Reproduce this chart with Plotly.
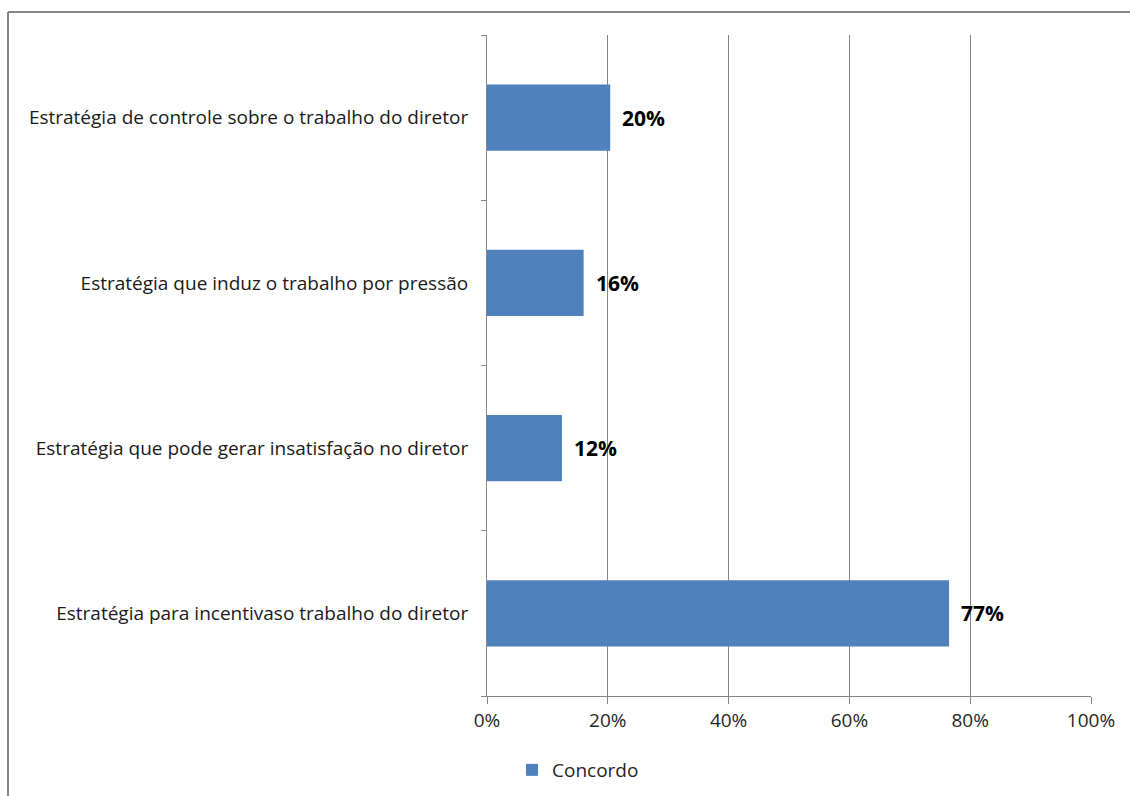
import plotly.graph_objects as go

categories = [
    "Estratégia de controle sobre o trabalho do diretor",
    "Estratégia que induz o trabalho por pressão",
    "Estratégia que pode gerar insatisfação no diretor",
    "Estratégia para incentivaso trabalho do diretor",
]
values = [0.204, 0.16, 0.124, 0.765]
value_labels = ["20%", "16%", "12%", "77%"]
series_name = "Concordo"
x_ticks = [0, 0.2, 0.4, 0.6, 0.8, 1.0]
x_tick_labels = ["0%", "20%", "40%", "60%", "80%", "100%"]

FONT = "Open Sans"
GRAY = "#868686"
L, R, T, B = 487, 39, 35, 100
W, H = 1130, 796
PW, PH = W - L - R, H - T - B

fig = go.Figure()
fig.add_trace(go.Bar(
    x=values, y=categories, orientation="h", name=series_name,
    marker=dict(color="#4F81BD", line=dict(width=0)),
    width=0.4, showlegend=True,
))

annotations = []
for cat, v, lab in zip(categories, values, value_labels):
    annotations.append(dict(
        x=v, y=cat, xref="x", yref="y", text="<b>%s</b>" % lab,
        showarrow=False, xanchor="left", yanchor="middle", xshift=10,
        font=dict(family=FONT, size=21, color="#000000"),
    ))

bx0 = (8 - L) / PW
by1 = (H - B - 12) / PH
fig.update_layout(
    width=W, height=H,
    margin=dict(l=L, r=R, t=T, b=B, autoexpand=False),
    paper_bgcolor="white", plot_bgcolor="white",
    font=dict(family=FONT, size=17, color="#262626"),
    xaxis=dict(
        range=[0, 1], tickvals=x_ticks, ticktext=x_tick_labels,
        showgrid=True, gridcolor=GRAY, gridwidth=1,
        showline=True, linecolor=GRAY, linewidth=1,
        ticks="outside", ticklen=7, tickcolor=GRAY,
        tickfont=dict(family=FONT, size=19, color="#262626"),
        zeroline=False, automargin=False,
    ),
    yaxis=dict(
        categoryorder="array", categoryarray=categories[::-1],
        tickson="boundaries", ticks="outside", ticklen=5, tickcolor=GRAY,
        showline=True, linecolor=GRAY, linewidth=1,
        showgrid=False, zeroline=False, automargin=False,
        tickfont=dict(family=FONT, size=19, color="#1a1a1a"),
        ticklabelstandoff=14,
    ),
    legend=dict(
        orientation="h", xref="paper", yref="paper",
        x=(512 - L) / PW, xanchor="left", y=(H - B - 770) / PH, yanchor="middle",
        font=dict(family=FONT, size=19, color="#262626"),
    ),
    annotations=annotations,
    shapes=[
        dict(type="line", xref="paper", yref="paper",
             x0=bx0, x1=bx0, y0=by1, y1=(H - B - 900) / PH,
             line=dict(color=GRAY, width=2)),
        dict(type="line", xref="paper", yref="paper",
             x0=bx0, x1=(1300 - L) / PW, y0=by1, y1=by1,
             line=dict(color=GRAY, width=2)),
    ],
)

fig.write_html("out.html")
